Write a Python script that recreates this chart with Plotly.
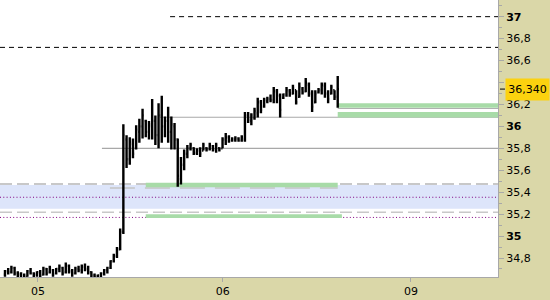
import plotly.graph_objects as go

# ---- OHLC data (bar index) ----
opens = [34.65, 34.68, 34.67, 34.71, 34.66, 34.65, 34.64, 34.63, 34.68, 34.66,
         34.65, 34.67, 34.65, 34.70, 34.67, 34.69, 34.66, 34.70, 34.71, 34.67,
         34.73, 34.68, 34.66, 34.70, 34.69, 34.72, 34.70, 34.67, 34.64, 34.63,
         34.64, 34.66, 34.69, 34.71, 34.77, 34.82, 34.88, 35.04, 35.88, 35.70,
         35.84, 35.80, 35.95, 36.00, 36.05, 35.95, 36.00, 36.05, 35.92, 36.10,
         36.00, 36.05, 35.95, 36.00, 35.88, 35.52, 35.65, 35.75, 35.80, 35.80,
         35.76, 35.78, 35.78, 35.80, 35.79, 35.82, 35.79, 35.80, 35.80, 35.88,
         35.90, 35.87, 35.88, 35.89, 35.87, 35.88, 36.10, 36.05, 36.08, 36.12,
         36.22, 36.18, 36.23, 36.25, 36.24, 36.32, 36.28, 36.26, 36.29, 36.32,
         36.30, 36.33, 36.27, 36.34, 36.32, 36.38, 36.30, 36.22, 36.31, 36.33,
         36.37, 36.30, 36.30, 36.33, 36.27]
highs = [34.69, 34.71, 34.73, 34.72, 34.68, 34.67, 34.66, 34.69, 34.71, 34.67,
         34.68, 34.69, 34.72, 34.71, 34.73, 34.70, 34.71, 34.74, 34.72, 34.76,
         34.74, 34.70, 34.72, 34.73, 34.74, 34.75, 34.73, 34.68, 34.66, 34.65,
         34.67, 34.70, 34.72, 34.78, 34.84, 34.90, 35.07, 36.02, 35.92, 35.90,
         35.89, 36.01, 36.07, 36.16, 36.06, 36.05, 36.25, 36.10, 36.21, 36.28,
         36.09, 36.18, 36.09, 36.03, 35.89, 35.72, 35.79, 35.83, 35.85, 35.81,
         35.80, 35.81, 35.85, 35.81, 35.85, 35.83, 35.85, 35.81, 35.90, 35.94,
         35.92, 35.90, 35.91, 35.90, 35.92, 36.13, 36.13, 36.12, 36.17, 36.26,
         36.24, 36.26, 36.27, 36.29, 36.36, 36.34, 36.30, 36.30, 36.36, 36.34,
         36.38, 36.33, 36.40, 36.36, 36.44, 36.40, 36.33, 36.33, 36.35, 36.40,
         36.40, 36.33, 36.38, 36.33, 36.46]
lows = [34.63, 34.65, 34.66, 34.64, 34.62, 34.62, 34.61, 34.63, 34.65, 34.62,
        34.63, 34.62, 34.64, 34.64, 34.66, 34.63, 34.65, 34.67, 34.64, 34.66,
        34.66, 34.63, 34.65, 34.67, 34.66, 34.68, 34.65, 34.62, 34.61, 34.61,
        34.62, 34.64, 34.66, 34.70, 34.76, 34.80, 34.87, 35.02, 35.62, 35.65,
        35.71, 35.79, 35.85, 35.89, 35.90, 35.88, 35.88, 35.83, 35.80, 35.85,
        35.90, 35.85, 35.79, 35.79, 35.45, 35.47, 35.60, 35.71, 35.78, 35.74,
        35.74, 35.72, 35.78, 35.77, 35.78, 35.77, 35.76, 35.77, 35.80, 35.83,
        35.85, 35.86, 35.86, 35.86, 35.86, 35.86, 36.03, 36.01, 36.06, 36.08,
        36.12, 36.17, 36.21, 36.22, 36.21, 36.21, 36.08, 36.25, 36.27, 36.27,
        36.29, 36.20, 36.26, 36.29, 36.31, 36.27, 36.13, 36.21, 36.30, 36.29,
        36.26, 36.21, 36.29, 36.24, 36.17]
closes = [34.68, 34.67, 34.71, 34.66, 34.65, 34.66, 34.63, 34.68, 34.66, 34.65,
          34.67, 34.64, 34.70, 34.66, 34.71, 34.65, 34.70, 34.72, 34.66, 34.73,
          34.68, 34.66, 34.70, 34.69, 34.72, 34.70, 34.67, 34.64, 34.63, 34.64,
          34.66, 34.69, 34.71, 34.77, 34.82, 34.88, 35.04, 35.92, 35.70, 35.86,
          35.75, 35.97, 36.00, 36.10, 35.95, 36.02, 36.05, 35.92, 36.10, 36.00,
          36.05, 35.95, 36.02, 35.88, 35.55, 35.65, 35.75, 35.80, 35.83, 35.76,
          35.78, 35.75, 35.83, 35.79, 35.83, 35.79, 35.83, 35.79, 35.88, 35.90,
          35.87, 35.88, 35.89, 35.87, 35.90, 36.10, 36.06, 36.10, 36.14, 36.22,
          36.15, 36.24, 36.25, 36.24, 36.32, 36.28, 36.15, 36.29, 36.33, 36.30,
          36.35, 36.22, 36.36, 36.31, 36.40, 36.30, 36.18, 36.30, 36.33, 36.38,
          36.30, 36.25, 36.36, 36.27, 36.34]

x_tick_pos = [10.3, 68.1, 126.9]
x_tick_labels = ["05", "06", "09"]

y_major = [34.8, 35.0, 35.2, 35.4, 35.6, 35.8, 36.0, 36.2, 36.4, 36.6, 36.8, 37.0]
# 36,4 is hidden behind the last-price marker in the reference
y_labels = ["34,8", "<b>35</b>", "35,2", "35,4", "35,6", "35,8", "<b>36</b>",
            "36,2", "", "36,6", "36,8", "<b>37</b>"]
y_minor = [34.7, 34.9, 35.1, 35.3, 35.5, 35.7, 35.9, 36.1, 36.3, 36.5, 36.7, 36.9, 37.1]

last_price = 36.34
last_label = "36,340"

X_MIN, X_MAX = -1.56, 154.1
Y_MIN, Y_MAX = 34.627, 37.152

# levels
dash_top = 37.0
dash_mid = 36.72
grey_lvl1 = 36.083
grey_lvl2 = 35.80
green_hi1 = (36.17, 36.21)
grey_lvl3 = 36.163
green_hi2 = (36.08, 36.13)
blue_band = (35.25, 35.466)
lgrey_dash1 = 35.475
lgrey_dash2 = 35.217
purple1 = 35.354
purple2 = 35.17
green_lo1 = (35.445, 35.485)
green_lo2 = (35.165, 35.20)
grey_lvl4 = 35.438

BEIGE = "#dad7a8"
AXGREY = "#a8a8a8"

fig = go.Figure(go.Ohlc(
    x=list(range(len(opens))), open=opens, high=highs, low=lows, close=closes,
    increasing=dict(line=dict(color="black", width=2.4)),
    decreasing=dict(line=dict(color="black", width=2.4)),
    tickwidth=0.4, hoverinfo="skip", showlegend=False))

shapes = []
def hline(y, x0, x1, color, width, dash="solid", xref="x", layer="below"):
    shapes.append(dict(type="line", xref=xref, yref="y", x0=x0, x1=x1, y0=y, y1=y,
                       line=dict(color=color, width=width, dash=dash), layer=layer))
def band(y0, y1, x0, x1, color, xref="x"):
    shapes.append(dict(type="rect", xref=xref, yref="y", x0=x0, x1=x1, y0=y0, y1=y1,
                       fillcolor=color, line=dict(width=0), layer="below"))

band(blue_band[0], blue_band[1], 0, 1, "#dde5fa", xref="paper")
hline(lgrey_dash1, 0, 1, "#c8c8c8", 2, "12px,5px", xref="paper")
hline(lgrey_dash2, 0, 1, "#c8c8c8", 1.5, "12px,5px", xref="paper")
hline(grey_lvl4, 32.8, 104, "#c4c4c4", 1.5, "25px,10px")
band(green_lo1[0], green_lo1[1], 44, 104, "#a8dba8")
band(green_lo2[0], green_lo2[1], 44, 105.3, "#a8dba8")
hline(purple1, 0, 1, "#800080", 1, "1px,2.3px", xref="paper")
hline(purple2, 0, 1, "#800080", 1, "1px,2.3px", xref="paper")
hline(grey_lvl2, 30.3, X_MAX, "#a8a8a8", 1.2)
hline(grey_lvl1, 48.4, X_MAX, "#a8a8a8", 1.2)
band(green_hi1[0], green_hi1[1], 104, X_MAX, "#a8dba8")
band(green_hi2[0], green_hi2[1], 104, X_MAX, "#a8dba8")
hline(grey_lvl3, 104, X_MAX, "#b0b0b0", 1)
hline(dash_top, 51.6, X_MAX, "black", 1, "5px,4px")
hline(dash_mid, 0, 1, "black", 1, "5px,4px", xref="paper")
# price marker tick
shapes.append(dict(type="line", xref="paper", yref="y", x0=1.004, x1=1.014,
                   y0=last_price, y1=last_price, line=dict(color="black", width=1)))

fig.update_layout(
    width=550, height=300,
    margin=dict(l=0, r=52, t=0, b=23),
    paper_bgcolor=BEIGE, plot_bgcolor="white",
    font=dict(family="DejaVu Sans", size=11, color="black"),
    shapes=shapes,
    showlegend=False,
    xaxis=dict(range=[X_MIN, X_MAX], rangeslider=dict(visible=False),
               tickmode="array", tickvals=x_tick_pos, ticktext=x_tick_labels,
               ticks="outside", ticklen=4, tickcolor=AXGREY,
               showline=True, linecolor=AXGREY, linewidth=1,
               showgrid=False, zeroline=False, fixedrange=True),
    yaxis=dict(range=[Y_MIN, Y_MAX], side="right",
               tickmode="array", tickvals=y_major, ticktext=y_labels,
               ticks="outside", ticklen=5, tickcolor=AXGREY,
               minor=dict(tickmode="array", tickvals=y_minor, ticks="outside",
                          ticklen=3, tickcolor=AXGREY, showgrid=False),
               showline=True, linecolor=AXGREY, linewidth=1,
               showgrid=False, zeroline=False, fixedrange=True),
    annotations=[dict(xref="paper", yref="y", x=1.014, y=last_price,
                      xanchor="left", yanchor="middle", text=last_label,
                      showarrow=False, bgcolor="#fcd20f", borderpad=1,
                      width=41, height=19, align="center",
                      font=dict(family="DejaVu Sans", size=11, color="black"))],
)

fig.write_html("out.html")
